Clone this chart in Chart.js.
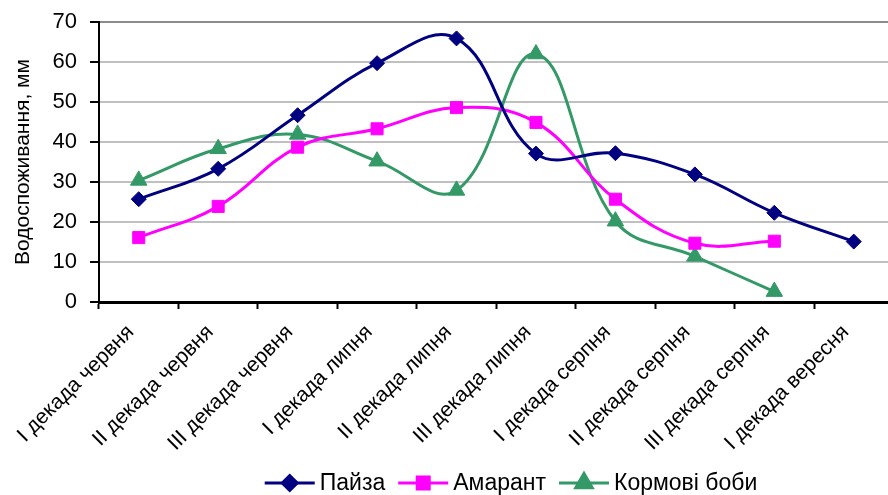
<!DOCTYPE html>
<html>
<head>
<meta charset="utf-8">
<script src="https://cdn.jsdelivr.net/npm/chart.js@4/dist/chart.umd.min.js"></script>
<style>
  html, body { margin: 0; padding: 0; background: #fff; overflow: hidden; }
  #wrap { position: relative; width: 888px; height: 495px; overflow: hidden; }
  canvas { display: block; }
</style>
</head>
<body>
<div id="wrap"><canvas id="waterChart" width="904" height="495"></canvas></div>
<script>
// Categories (decades of months)
const categories = [
  "I декада червня", "II декада червня", "III декада червня",
  "I декада липня", "II декада липня", "III декада липня",
  "I декада серпня", "II декада серпня", "III декада серпня",
  "I декада вересня"
];

// Water consumption, mm
const paiza = [25.7, 33.3, 46.7, 59.7, 65.9, 37.1, 37.2, 31.9, 22.3, 15.1];
const amarant = [16.1, 23.9, 38.7, 43.3, 48.6, 44.9, 25.7, 14.7, 15.2, null];
const boby = [30.4, 38.3, 41.9, 35.2, 27.9, 62.0, 20.2, 11.4, 2.6, null];

const yTicks = [0, 10, 20, 30, 40, 50, 60, 70];

const FONT = "'Liberation Sans', Arial, sans-serif";

// legend drawn by hand: line with marker, then text
const legendPlugin = {
  id: "lineLegend",
  afterDraw(chart) {
    const ctx = chart.ctx;
    const items = chart.data.datasets;
    const lineLen = 50, gap = 5, spacing = 13;
    ctx.save();
    ctx.font = "23px " + FONT;
    let total = 0;
    items.forEach((ds, i) => {
      total += lineLen + gap + ctx.measureText(ds.label).width;
      if (i < items.length - 1) total += spacing;
    });
    let x = 511 - total / 2;
    const y = 483;
    items.forEach((ds) => {
      ctx.strokeStyle = ds.borderColor;
      ctx.lineWidth = 3;
      ctx.beginPath();
      ctx.moveTo(x, y);
      ctx.lineTo(x + lineLen, y);
      ctx.stroke();
      ctx.fillStyle = ds.pointBackgroundColor;
      ctx.strokeStyle = ds.pointBorderColor;
      Chart.helpers.drawPoint(ctx, {
        pointStyle: ds.pointStyle,
        radius: ds.pointRadius,
        rotation: 0,
        borderWidth: 1
      }, x + lineLen / 2, y);
      ctx.fillStyle = "#000";
      ctx.textAlign = "left";
      ctx.textBaseline = "middle";
      ctx.fillText(ds.label, x + lineLen + gap, y + 1);
      x += lineLen + gap + ctx.measureText(ds.label).width + spacing;
    });
    ctx.restore();
  }
};

function makeSeries(label, data, color, style, radius) {
  return {
    label: label,
    data: data,
    borderColor: color,
    backgroundColor: color,
    borderWidth: 3,
    pointStyle: style,
    pointRadius: radius,
    pointHoverRadius: radius,
    pointBackgroundColor: color,
    pointBorderColor: color,
    pointBorderWidth: 1,
    tension: 0.4,
    spanGaps: false
  };
}

new Chart(document.getElementById("waterChart"), {
  type: "line",
  data: {
    labels: categories,
    datasets: [
      makeSeries("Пайза", paiza, "#000080", "rectRot", 7.5),
      makeSeries("Амарант", amarant, "#FF00FF", "rect", 8.5),
      makeSeries("Кормові боби", boby, "#339966", "triangle", 9.5)
    ]
  },
  options: {
    responsive: false,
    animation: false,
    layout: { padding: { top: 22, right: 0, bottom: 43, left: 0 } },
    plugins: {
      legend: { display: false },
      tooltip: { enabled: false }
    },
    scales: {
      x: {
        offset: true,
        grid: {
          offset: true,
          drawOnChartArea: false,
          tickLength: 7,
          tickColor: "#000",
          tickWidth: 2
        },
        border: { color: "#000", width: 3 },
        ticks: {
          color: "#000",
          font: { family: FONT, size: 21 },
          maxRotation: 45,
          minRotation: 45,
          autoSkip: false,
          padding: 11,
          labelOffset: -8
        },
        afterFit(scale) {
          scale.height = 150;
          scale.paddingLeft = 0;
          scale.paddingRight = 0;
        }
      },
      y: {
        min: 0,
        max: 70,
        afterBuildTicks(scale) {
          scale.ticks = yTicks.map(v => ({ value: v }));
        },
        grid: {
          color: (c) => (c.tick && c.tick.value === 70 ? "#8c8c8c" : "#c0c0c0"),
          lineWidth: 2,
          tickLength: 9,
          tickColor: "#000",
          tickWidth: 2
        },
        border: { color: "#000", width: 2 },
        ticks: {
          color: "#000",
          font: { family: FONT, size: 22 },
          padding: 13
        },
        title: {
          display: true,
          text: "Водоспоживання, мм",
          color: "#000",
          font: { family: FONT, size: 21 },
          padding: { top: 11, bottom: 0 }
        },
        afterFit(scale) {
          scale.width = 99;
          scale.paddingTop = 0;
          scale.paddingBottom = 0;
        }
      }
    }
  },
  plugins: [legendPlugin]
});
</script>
</body>
</html>
